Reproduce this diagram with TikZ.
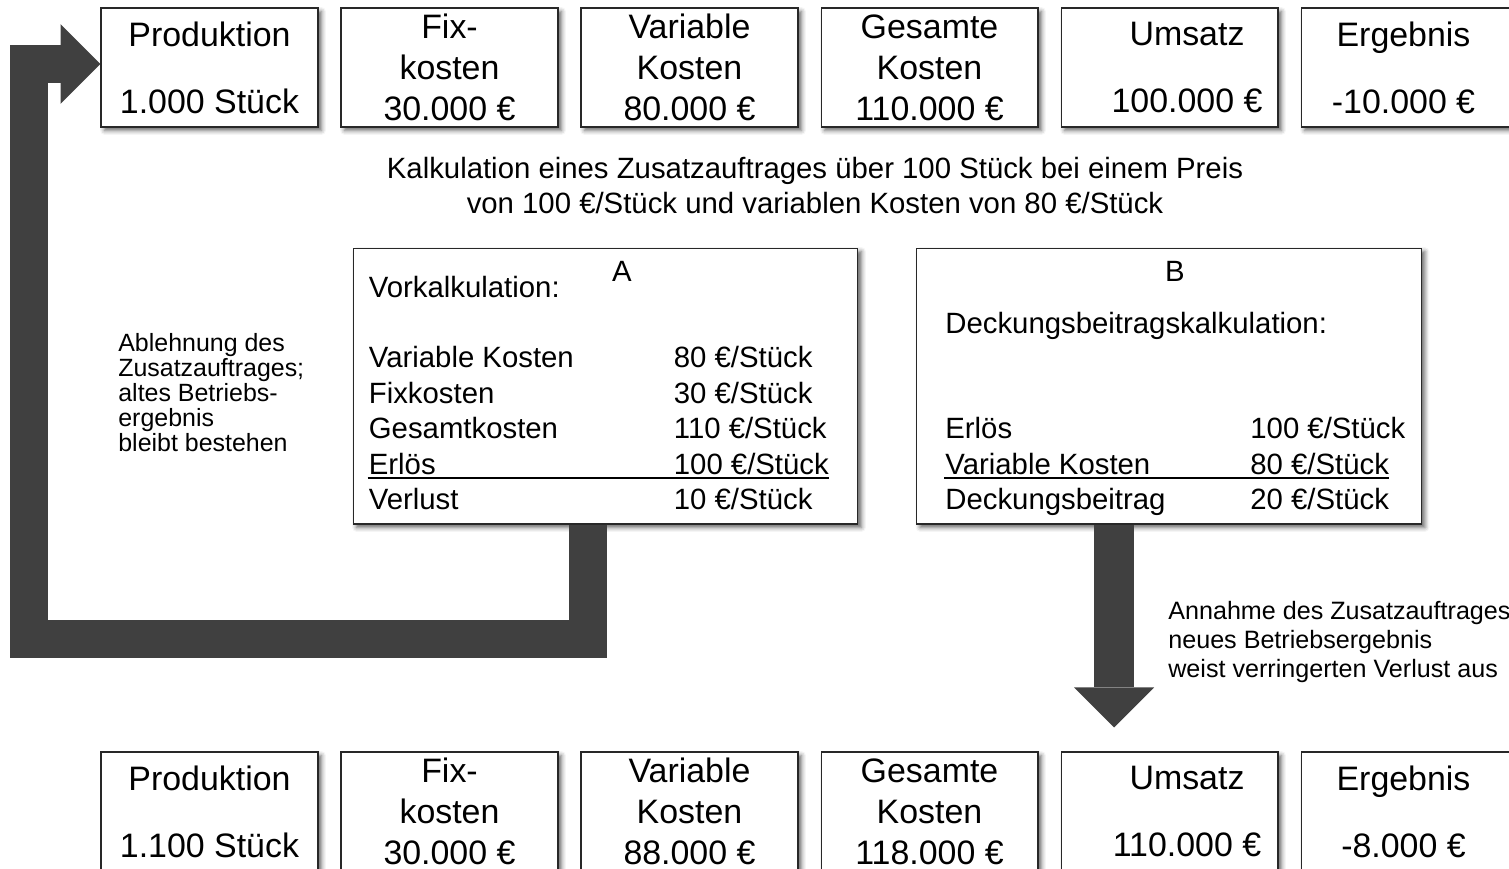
\documentclass[tikz,border=0pt]{standalone}
\usepackage{fontspec}
\setmainfont{Liberation Sans}
\usepackage{tikz}
\usetikzlibrary{arrows.meta, calc, shadows.blur}
\definecolor{arrowgray}{RGB}{64, 64, 64}
\definecolor{framegray}{RGB}{40, 40, 40}

\begin{document}
\begin{tikzpicture}[x=0.02cm, y=-0.02cm,
        kachel/.style={rectangle, draw=framegray, line width=0.6pt, fill=white, minimum width=4.34cm, minimum height=2.38cm, inner sep=0pt, align=center, font=\fontsize{19.3}{23.3}\selectfont, blur shadow={shadow xshift=2pt, shadow yshift=-2pt, shadow blur radius=2.5pt, shadow opacity=60}},
        kalkbox/.style={rectangle, draw=framegray, line width=0.6pt, fill=white, minimum width=10.1cm, minimum height=5.52cm, inner sep=0pt, blur shadow={shadow xshift=2pt, shadow yshift=-2pt, shadow blur radius=2.5pt, shadow opacity=60}},
        zeile/.style={anchor=base west, inner sep=0pt, font=\fontsize{16.7}{20}\selectfont},
        notiz/.style={anchor=north west, inner sep=0pt, align=left},
        summenstrich/.style={line width=0.04cm},
        blockpfeil/.style={draw=arrowgray, line join=miter, -{Triangle[length=0.8cm, width=1.6cm, line width=0pt]}}]
        \useasboundingbox (0,0) rectangle (1509,869);
        % Ausgangslage
        \node[kachel] (prod1) at (209.5,67.5) {Produktion\\[14.9pt]1.000 Stück};
        \node[kachel] (fix1) at (449.5,67.5) {Fix-\\kosten\\30.000 €};
        \node[kachel] (var1) at (689.5,67.5) {Variable\\Kosten\\80.000 €};
        \node[kachel] (ges1) at (929.5,67.5) {Gesamte\\Kosten\\110.000 €};
        \node[kachel] (ums1) at (1169.5,67.5) {\hspace*{0.7cm}Umsatz\\[14.9pt]\hspace*{0.7cm}100.000 €};
        \node[kachel] (erg1) at (1409.5,67.5) {Ergebnis\hspace*{0.24cm}\\[14.9pt]-10.000 €\hspace*{0.24cm}};
        \node[anchor=north, align=center, inner sep=0pt, font=\fontsize{16.7}{20}\selectfont] (titel) at (815,157) {Kalkulation eines Zusatzauftrages über 100 Stück bei einem Preis\\von 100 €/Stück und variablen Kosten von 80 €/Stück};
        % Fall A
        \node[kalkbox] (kalkA) at (605.5,386) {};
        \node[anchor=base, inner sep=0pt, font=\fontsize{16.7}{20}\selectfont] (labA) at ($(kalkA.north)+(16.5,34)$) {A};
        \node[zeile] (vorkalk) at ($(kalkA.north west)+(16,50)$) {Vorkalkulation:};
        \node[zeile] (vkA) at ($(kalkA.north west)+(16,120)$) {Variable Kosten};
        \node[zeile] (vkAw) at ($(kalkA.north west)+(321,120)$) {80 €/Stück};
        \node[zeile] (fkA) at ($(kalkA.north west)+(16,155.5)$) {Fixkosten};
        \node[zeile] (fkAw) at ($(kalkA.north west)+(321,155.5)$) {30 €/Stück};
        \node[zeile] (gkA) at ($(kalkA.north west)+(16,191)$) {Gesamtkosten};
        \node[zeile] (gkAw) at ($(kalkA.north west)+(321,191)$) {110 €/Stück};
        \node[zeile] (erA) at ($(kalkA.north west)+(16,226.5)$) {Erlös};
        \node[zeile] (erAw) at ($(kalkA.north west)+(321,226.5)$) {100 €/Stück};
        \node[zeile] (vlA) at ($(kalkA.north west)+(16,262)$) {Verlust};
        \node[zeile] (vlAw) at ($(kalkA.north west)+(321,262)$) {10 €/Stück};
        \draw[summenstrich] ($(erA.base west)+(-1,4)$) -- ($(erAw.base east)+(0,4)$);
        % Fall B
        \node[kalkbox] (kalkB) at (1169,386) {};
        \node[anchor=base, inner sep=0pt, font=\fontsize{16.7}{20}\selectfont] (labB) at ($(kalkB.north)+(6,34)$) {B};
        \node[zeile] (dbkalk) at ($(kalkB.north west)+(29,86)$) {Deckungsbeitragskalkulation:};
        \node[zeile] (erB) at ($(kalkB.north west)+(29,191)$) {Erlös};
        \node[zeile] (erBw) at ($(kalkB.north west)+(334,191)$) {100 €/Stück};
        \node[zeile] (vkB) at ($(kalkB.north west)+(29,226.5)$) {Variable Kosten};
        \node[zeile] (vkBw) at ($(kalkB.north west)+(334,226.5)$) {80 €/Stück};
        \node[zeile] (dbB) at ($(kalkB.north west)+(29,262)$) {Deckungsbeitrag};
        \node[zeile] (dbBw) at ($(kalkB.north west)+(334,262)$) {20 €/Stück};
        \draw[summenstrich] ($(vkB.base west)+(-1,4)$) -- ($(vkBw.base east)+(0,4)$);
        % neue Lage
        \node[kachel] (prod2) at (209.5,811.5) {Produktion\\[14.9pt]1.100 Stück};
        \node[kachel] (fix2) at (449.5,811.5) {Fix-\\kosten\\30.000 €};
        \node[kachel] (var2) at (689.5,811.5) {Variable\\Kosten\\88.000 €};
        \node[kachel] (ges2) at (929.5,811.5) {Gesamte\\Kosten\\118.000 €};
        \node[kachel] (ums2) at (1169.5,811.5) {\hspace*{0.7cm}Umsatz\\[14.9pt]\hspace*{0.7cm}110.000 €};
        \node[kachel] (erg2) at (1409.5,811.5) {Ergebnis\hspace*{0.24cm}\\[14.9pt]-8.000 €\hspace*{0.24cm}};
        % Pfeile
        \draw[blockpfeil, line width=0.76cm] ($(kalkA.south)+(-18,0)$) -- ++(0,114.5) -| ($(prod1.west)+(-71.5,-3.5)$) -- ($(prod1.west)+(0,-3.5)$);
        \draw[blockpfeil, line width=0.8cm] ($(kalkB.south)+(-55,0)$) -- ($(ums2.north)+(-55.5,-24)$);
        \node[notiz, font=\fontsize{14.2}{14.2}\selectfont] (ablehnung) at (118,333) {Ablehnung des\\Zusatzauftrages;\\altes Betriebs-\\ergebnis\\bleibt bestehen};
        \node[notiz, font=\fontsize{14.3}{16.5}\selectfont] (annahme) at (1168,601) {Annahme des Zusatzauftrages\\neues Betriebsergebnis\\weist verringerten Verlust aus};
\end{tikzpicture}
\end{document}
